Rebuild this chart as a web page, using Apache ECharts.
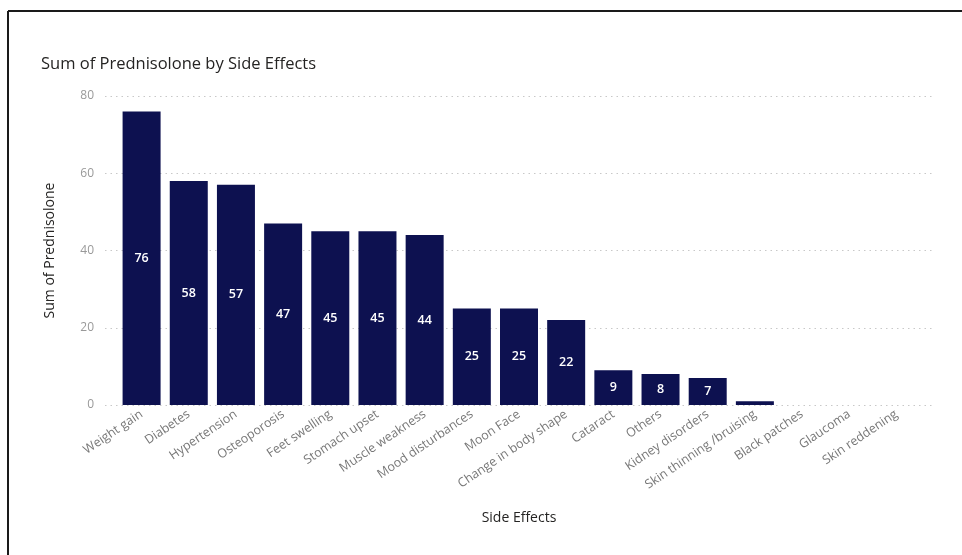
<!DOCTYPE html>
<html>
<head>
<meta charset="utf-8">
<script src="https://cdn.jsdelivr.net/npm/echarts@6/dist/echarts.min.js"></script>
<style>
  html, body { margin: 0; padding: 0; background: #ffffff; }
  #chart { width: 962px; height: 555px; }
</style>
</head>
<body>
<div id="chart"></div>
<script>
// Side effect categories and summed prednisolone counts
const categories = [
  'Weight gain', 'Diabetes', 'Hypertension', 'Osteoporosis', 'Feet swelling',
  'Stomach upset', 'Muscle weakness', 'Mood disturbances', 'Moon Face',
  'Change in body shape', 'Cataract', 'Others', 'Kidney disorders',
  'Skin thinning /bruising', 'Black patches', 'Glaucoma', 'Skin reddening'
];
const values = [76, 58, 57, 47, 45, 45, 44, 25, 25, 22, 9, 8, 7, 1, 0, 0, 0];
const yTicks = [0, 20, 40, 60, 80];

const chart = echarts.init(document.getElementById('chart'));
const font = '"Open Sans", "Noto Sans", sans-serif';

chart.setOption({
  animation: false,
  title: {
    text: 'Sum of Prednisolone by Side Effects',
    left: 36, top: 51,
    textStyle: { fontFamily: font, fontSize: 16.5, fontWeight: 'normal', color: '#252423' }
  },
  graphic: [
    { type: 'line', shape: { x1: 8, y1: 11, x2: 962, y2: 11 }, style: { stroke: '#1a1a1a', lineWidth: 2 } },
    { type: 'line', shape: { x1: 8, y1: 11, x2: 8, y2: 555 }, style: { stroke: '#1a1a1a', lineWidth: 2 } }
  ],
  grid: [
    { left: 105, right: 29, top: 96, bottom: 150 },
    { left: 118, right: 42, top: 96, bottom: 150 }
  ],
  xAxis: [
    { type: 'category', gridIndex: 0, data: categories, show: false },
    {
      type: 'category', gridIndex: 1, data: categories,
      axisLine: { show: false }, axisTick: { show: false },
      axisLabel: {
        rotate: 34, interval: 0, margin: 8,
        fontFamily: font, fontSize: 12.5, color: '#777777'
      },
      name: 'Side Effects', nameLocation: 'middle', nameGap: 106,
      nameTextStyle: { fontFamily: font, fontSize: 14, color: '#252423' }
    }
  ],
  yAxis: [
    {
      type: 'value', gridIndex: 0, min: 0, max: yTicks[yTicks.length - 1], interval: 20,
      axisLine: { show: false }, axisTick: { show: false },
      axisLabel: { margin: 11, fontFamily: font, fontSize: 12, color: '#999999' },
      splitLine: { lineStyle: { type: [1.5, 4], color: '#c8c8c8', width: 1 } },
      name: 'Sum of Prednisolone', nameLocation: 'middle', nameGap: 48, nameRotate: 90,
      nameTextStyle: { fontFamily: font, fontSize: 14, color: '#252423' }
    },
    {
      type: 'value', gridIndex: 1, min: 0, max: yTicks[yTicks.length - 1], interval: 20,
      show: false, splitLine: { show: false }
    }
  ],
  series: [{
    type: 'bar',
    xAxisIndex: 1, yAxisIndex: 1,
    data: values,
    barWidth: 38,
    itemStyle: { color: '#0d1150' },
    label: {
      show: true, position: 'inside',
      fontFamily: font, fontSize: 12.5, fontWeight: 600, color: '#ffffff',
      formatter: p => (p.value >= 5 ? String(p.value) : '')
    }
  }]
});
</script>
</body>
</html>
